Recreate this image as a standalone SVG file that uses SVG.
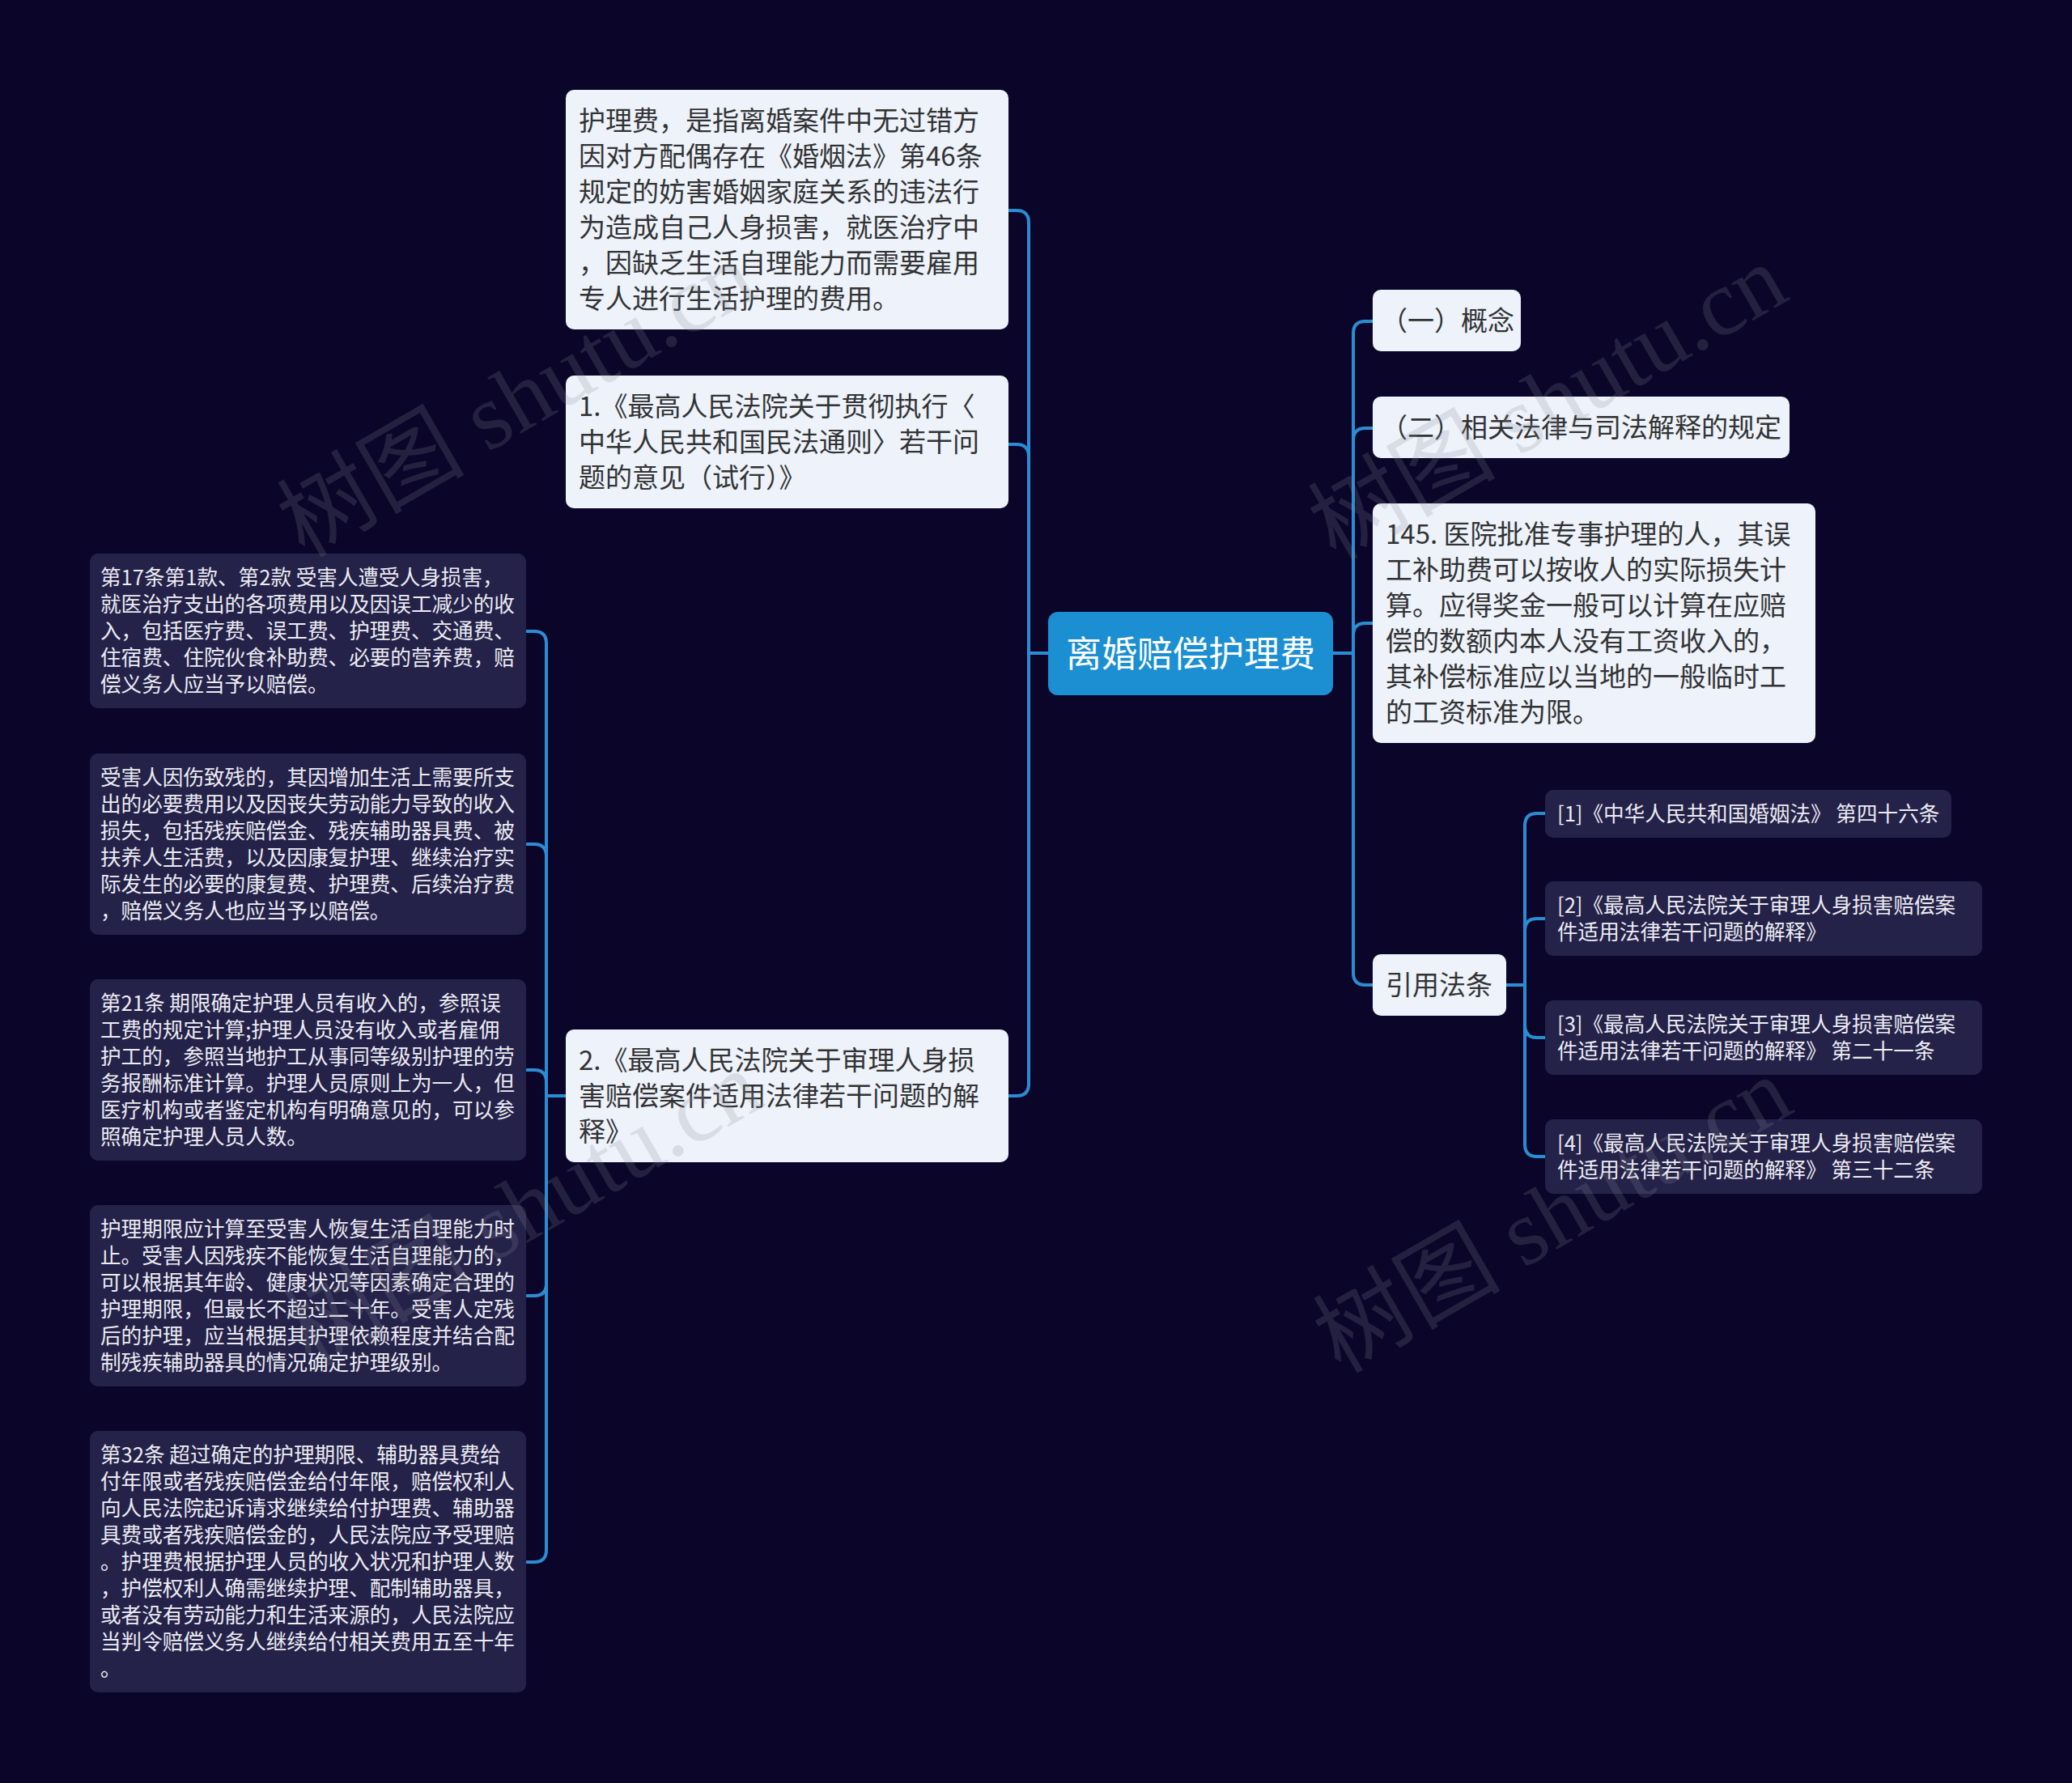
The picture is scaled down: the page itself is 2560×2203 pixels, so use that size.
<svg xmlns="http://www.w3.org/2000/svg" width="2560" height="2203" viewBox="0 0 2560 2203">
<defs>
<style>
.bg{fill:#0b0629}
.light rect{fill:#edf2fb}
.dark rect{fill:#25224a}
.root rect{fill:#1b8fd2}
.lt{font-family:"Noto Sans CJK SC","Noto Sans",sans-serif;font-size:33px;fill:#333333}
.dt{font-family:"Noto Sans CJK SC","Noto Sans",sans-serif;font-size:25.6px;fill:#ececf2}
.rt{font-family:"Noto Sans CJK SC","Noto Sans",sans-serif;font-size:44px;fill:#ffffff}
.conn path{fill:none;stroke:#2a8dd4;stroke-width:4;stroke-linecap:round}
.wm{font-family:"Liberation Serif","Noto Sans CJK SC",serif;font-size:116px;fill:#8a8a96;opacity:0.2}
</style>
</defs>
<rect class="bg" x="0" y="0" width="2560" height="2203"/>

<g id="connectors" class="conn">
<path d="M1295,807 H1271"/>
<path d="M1271,807 V275 Q1271,260 1256,260 H1247"/>
<path d="M1271,807 V564 Q1271,549 1256,549 H1247"/>
<path d="M1271,807 V1339 Q1271,1354 1256,1354 H1247"/>
<path d="M1647,807 H1672"/>
<path d="M1672,807 V412 Q1672,397 1687,397 H1696"/>
<path d="M1672,807 V544 Q1672,529 1687,529 H1696"/>
<path d="M1672,807 V785 Q1672,770 1687,770 H1696"/>
<path d="M1672,807 V1202 Q1672,1217 1687,1217 H1696"/>
<path d="M1861,1217 H1884"/>
<path d="M1884,1217 V1020 Q1884,1005 1899,1005 H1909"/>
<path d="M1884,1217 V1150 Q1884,1135 1899,1135 H1909"/>
<path d="M1884,1217 V1267 Q1884,1282 1899,1282 H1909"/>
<path d="M1884,1217 V1414 Q1884,1429 1899,1429 H1909"/>
<path d="M699,1354 H675"/>
<path d="M675,1354 V795 Q675,780 660,780 H651"/>
<path d="M675,1354 V1058 Q675,1043 660,1043 H651"/>
<path d="M675,1354 V1337 Q675,1322 660,1322 H651"/>
<path d="M675,1354 V1586 Q675,1601 660,1601 H651"/>
<path d="M675,1354 V1915 Q675,1930 660,1930 H651"/>
</g>

<g id="root" class="root">
<rect x="1295" y="756" width="352" height="103" rx="12"/>
<text class="rt" x="1471" y="824" text-anchor="middle">离婚赔偿护理费</text>
</g>

<g id="nodeA" class="light">
<rect x="699" y="111" width="547" height="296" rx="10"/>
<text class="lt">
<tspan x="715" y="161">护理费，是指离婚案件中无过错方</tspan>
<tspan x="715" y="205">因对方配偶存在《婚烟法》第46条</tspan>
<tspan x="715" y="249">规定的妨害婚姻家庭关系的违法行</tspan>
<tspan x="715" y="293">为造成自己人身损害，就医治疗中</tspan>
<tspan x="715" y="337">，因缺乏生活自理能力而需要雇用</tspan>
<tspan x="715" y="381">专人进行生活护理的费用。</tspan>
</text>
</g>

<g id="nodeB" class="light">
<rect x="699" y="464" width="547" height="164" rx="10"/>
<text class="lt">
<tspan x="715" y="514">1.《最高人民法院关于贯彻执行〈</tspan>
<tspan x="715" y="558">中华人民共和国民法通则〉若干问</tspan>
<tspan x="715" y="602">题的意见（试行）》</tspan>
</text>
</g>

<g id="nodeC" class="light">
<rect x="699" y="1272" width="547" height="164" rx="10"/>
<text class="lt">
<tspan x="715" y="1322">2.《最高人民法院关于审理人身损</tspan>
<tspan x="715" y="1366">害赔偿案件适用法律若干问题的解</tspan>
<tspan x="715" y="1410">释》</tspan>
</text>
</g>

<g id="nodeL1" class="dark">
<rect x="111" y="684" width="539" height="191" rx="10"/>
<text class="dt">
<tspan x="124" y="723">第17条第1款、第2款 受害人遭受人身损害，</tspan>
<tspan x="124" y="756">就医治疗支出的各项费用以及因误工减少的收</tspan>
<tspan x="124" y="789">入，包括医疗费、误工费、护理费、交通费、</tspan>
<tspan x="124" y="822">住宿费、住院伙食补助费、必要的营养费，赔</tspan>
<tspan x="124" y="855">偿义务人应当予以赔偿。</tspan>
</text>
</g>

<g id="nodeL2" class="dark">
<rect x="111" y="931" width="539" height="224" rx="10"/>
<text class="dt">
<tspan x="124" y="970">受害人因伤致残的，其因增加生活上需要所支</tspan>
<tspan x="124" y="1003">出的必要费用以及因丧失劳动能力导致的收入</tspan>
<tspan x="124" y="1036">损失，包括残疾赔偿金、残疾辅助器具费、被</tspan>
<tspan x="124" y="1069">扶养人生活费，以及因康复护理、继续治疗实</tspan>
<tspan x="124" y="1102">际发生的必要的康复费、护理费、后续治疗费</tspan>
<tspan x="124" y="1135">，赔偿义务人也应当予以赔偿。</tspan>
</text>
</g>

<g id="nodeL3" class="dark">
<rect x="111" y="1210" width="539" height="224" rx="10"/>
<text class="dt">
<tspan x="124" y="1249">第21条 期限确定护理人员有收入的，参照误</tspan>
<tspan x="124" y="1282">工费的规定计算;护理人员没有收入或者雇佣</tspan>
<tspan x="124" y="1315">护工的，参照当地护工从事同等级别护理的劳</tspan>
<tspan x="124" y="1348">务报酬标准计算。护理人员原则上为一人，但</tspan>
<tspan x="124" y="1381">医疗机构或者鉴定机构有明确意见的，可以参</tspan>
<tspan x="124" y="1414">照确定护理人员人数。</tspan>
</text>
</g>

<g id="nodeL4" class="dark">
<rect x="111" y="1489" width="539" height="224" rx="10"/>
<text class="dt">
<tspan x="124" y="1528">护理期限应计算至受害人恢复生活自理能力时</tspan>
<tspan x="124" y="1561">止。受害人因残疾不能恢复生活自理能力的，</tspan>
<tspan x="124" y="1594">可以根据其年龄、健康状况等因素确定合理的</tspan>
<tspan x="124" y="1627">护理期限，但最长不超过二十年。受害人定残</tspan>
<tspan x="124" y="1660">后的护理，应当根据其护理依赖程度并结合配</tspan>
<tspan x="124" y="1693">制残疾辅助器具的情况确定护理级别。</tspan>
</text>
</g>

<g id="nodeL5" class="dark">
<rect x="111" y="1768" width="539" height="323" rx="10"/>
<text class="dt">
<tspan x="124" y="1807">第32条 超过确定的护理期限、辅助器具费给</tspan>
<tspan x="124" y="1840">付年限或者残疾赔偿金给付年限，赔偿权利人</tspan>
<tspan x="124" y="1873">向人民法院起诉请求继续给付护理费、辅助器</tspan>
<tspan x="124" y="1906">具费或者残疾赔偿金的，人民法院应予受理赔</tspan>
<tspan x="124" y="1939">。护理费根据护理人员的收入状况和护理人数</tspan>
<tspan x="124" y="1972">，护偿权利人确需继续护理、配制辅助器具，</tspan>
<tspan x="124" y="2005">或者没有劳动能力和生活来源的，人民法院应</tspan>
<tspan x="124" y="2038">当判令赔偿义务人继续给付相关费用五至十年</tspan>
<tspan x="124" y="2071">。</tspan>
</text>
</g>

<g id="nodeR1" class="light">
<rect x="1696" y="358" width="183" height="76" rx="10"/>
<text class="lt" x="1706" y="408">（一）概念</text>
</g>

<g id="nodeR2" class="light">
<rect x="1696" y="490" width="515" height="76" rx="10"/>
<text class="lt" x="1706" y="540">（二）相关法律与司法解释的规定</text>
</g>

<g id="nodeR3" class="light">
<rect x="1696" y="622" width="547" height="296" rx="10"/>
<text class="lt">
<tspan x="1712" y="672">145. 医院批准专事护理的人，其误</tspan>
<tspan x="1712" y="716">工补助费可以按收人的实际损失计</tspan>
<tspan x="1712" y="760">算。应得奖金一般可以计算在应赔</tspan>
<tspan x="1712" y="804">偿的数额内本人没有工资收入的，</tspan>
<tspan x="1712" y="848">其补偿标准应以当地的一般临时工</tspan>
<tspan x="1712" y="892">的工资标准为限。</tspan>
</text>
</g>

<g id="nodeR4" class="light">
<rect x="1696" y="1179" width="165" height="76" rx="10"/>
<text class="lt" x="1712" y="1229">引用法条</text>
</g>

<g id="ref1" class="dark">
<rect x="1909" y="976" width="502" height="59" rx="10"/>
<text class="dt" x="1924" y="1015">[1]《中华人民共和国婚姻法》 第四十六条</text>
</g>

<g id="ref2" class="dark">
<rect x="1909" y="1089" width="540" height="92" rx="10"/>
<text class="dt">
<tspan x="1924" y="1128">[2]《最高人民法院关于审理人身损害赔偿案</tspan>
<tspan x="1924" y="1161">件适用法律若干问题的解释》</tspan>
</text>
</g>

<g id="ref3" class="dark">
<rect x="1909" y="1236" width="540" height="92" rx="10"/>
<text class="dt">
<tspan x="1924" y="1275">[3]《最高人民法院关于审理人身损害赔偿案</tspan>
<tspan x="1924" y="1308">件适用法律若干问题的解释》 第二十一条</tspan>
</text>
</g>

<g id="ref4" class="dark">
<rect x="1909" y="1383" width="540" height="92" rx="10"/>
<text class="dt">
<tspan x="1924" y="1422">[4]《最高人民法院关于审理人身损害赔偿案</tspan>
<tspan x="1924" y="1455">件适用法律若干问题的解释》 第三十二条</tspan>
</text>
</g>

<g id="watermarks">
<text class="wm" transform="translate(376,690) rotate(-30)">树图 shutu.cn</text>
<text class="wm" transform="translate(1650,694) rotate(-30)">树图 shutu.cn</text>
<text class="wm" transform="translate(384,1690) rotate(-30)">树图 shutu.cn</text>
<text class="wm" transform="translate(1656,1698) rotate(-30)">树图 shutu.cn</text>
</g>
</svg>
